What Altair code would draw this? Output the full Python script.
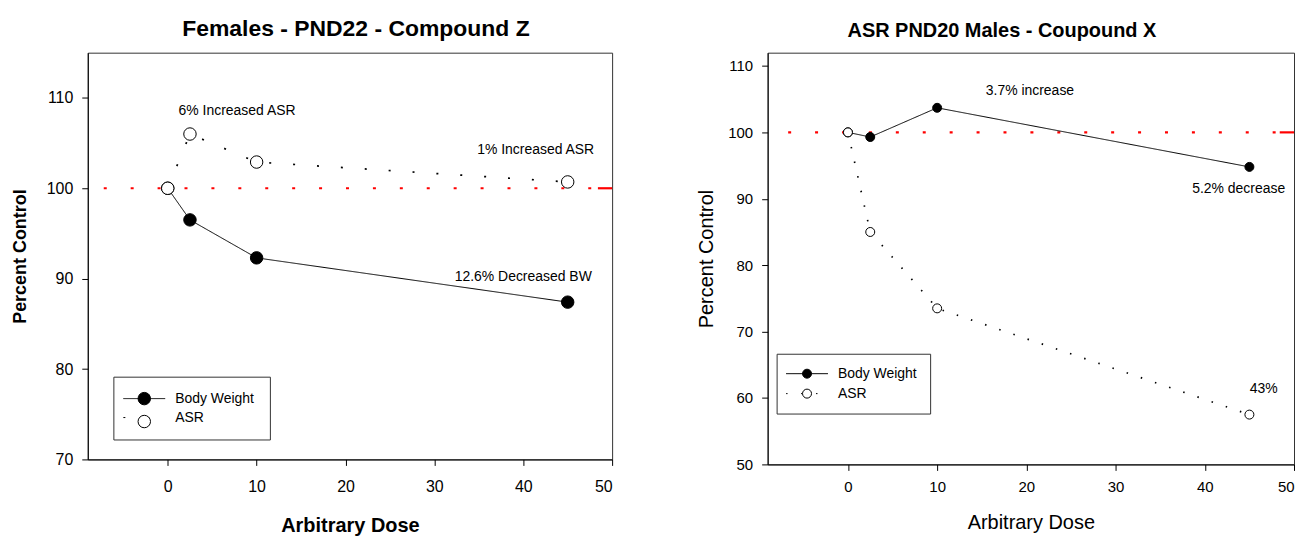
import altair as alt
import pandas as pd

FONT = "Liberation Sans"

# ---- data ----
dose = [0, 2.5, 10, 45]
series_names = ["Body Weight", "ASR"]

f_bw = [100, 96.5, 92.3, 87.4]
f_asr = [100, 106.0, 102.9, 100.7]
m_bw = [100, 99.3, 103.7, 94.8]
m_asr = [100, 85.0, 73.5, 57.5]

f_ann_text = ["6% Increased ASR", "1% Increased ASR", "12.6% Decreased BW"]
f_ann_x = [7.8, 41.4, 40.0]
f_ann_y = [108.6, 104.2, 90.2]

m_ann_text = ["3.7% increase", "5.2% decrease", "43%"]
m_ann_x = [20.4, 43.8, 46.6]
m_ann_y = [106.2, 91.4, 61.4]

ref_level = 100
f_ref_from, m_ref_from = -7.2, -6.7
ref_to = 50
ref_solid_from = 48.4

x_ticks = [0, 10, 20, 30, 40, 50]
x_domain = [-9, 50]


def panel(title, title_size, title_dx, bw, asr, ydom, yticks, ann_text, ann_x, ann_y,
          width, height, bold, tick_fs, ytitle_fs, xtitle_fs, msize, asr_dash,
          lx, ly, lpad, lrow, half_len, sym_off, ref_from, xlabel_pad, xtitle_pad, ytitle_pad):
    rows = []
    for name, vals in ((series_names[0], bw), (series_names[1], asr)):
        for d, v in zip(dose, vals):
            rows.append({"dose": d, "value": v, "series": name, "series_pt": name})
    df = pd.DataFrame(rows)
    ref_df = pd.DataFrame({"x": [ref_from], "x2": [ref_to], "y": [ref_level]})
    solid_df = pd.DataFrame({"x": [ref_solid_from], "x2": [ref_to], "y": [ref_level]})
    ann_df = pd.DataFrame({"t": ann_text, "x": ann_x, "y": ann_y})

    weight = "bold" if bold else "normal"
    xs = alt.Scale(domain=x_domain, nice=False, zero=False)
    ys = alt.Scale(domain=ydom, nice=False, zero=False)
    xax = alt.Axis(values=x_ticks, title="Arbitrary Dose", titleFontWeight=weight,
                   titleFontSize=xtitle_fs, labelFontSize=tick_fs, tickSize=6,
                   labelPadding=xlabel_pad, titlePadding=xtitle_pad, grid=False)
    yax = alt.Axis(values=yticks, title="Percent Control", titleFontWeight=weight,
                   titleFontSize=ytitle_fs, labelFontSize=tick_fs, tickSize=6,
                   labelPadding=9, titlePadding=ytitle_pad, grid=False)

    ref = alt.Chart(ref_df).mark_rule(color="red", strokeWidth=2.2, strokeDash=[3, 24]).encode(
        x=alt.X("x:Q", scale=xs, axis=xax), x2="x2:Q", y=alt.Y("y:Q", scale=ys, axis=yax))
    solid = alt.Chart(solid_df).mark_rule(color="red", strokeWidth=2.2).encode(
        x=alt.X("x:Q", scale=xs, axis=xax), x2="x2:Q", y=alt.Y("y:Q", scale=ys, axis=yax))

    line_legend = alt.Legend(
        orient="none", legendX=lx, legendY=ly, title=None,
        symbolType="M-%.3f,0H%.3f" % (half_len, half_len), symbolSize=msize,
        symbolStrokeColor="black", symbolStrokeWidth=1, symbolFillColor="transparent",
        symbolOffset=sym_off, labelOffset=24, labelFont=FONT, labelFontSize=14,
        labelColor="black", rowPadding=lrow, padding=lpad,
        strokeColor="#333333", fillColor="white")
    pt_legend = alt.Legend(
        orient="none", legendX=lx, legendY=ly, title=None,
        symbolType="circle", symbolSize=msize,
        symbolStrokeColor="black", symbolStrokeWidth=1,
        symbolOffset=sym_off, labelOffset=24, labelFont=FONT, labelFontSize=14,
        labelExpr="''", rowPadding=lrow, padding=lpad)

    lines = alt.Chart(df).mark_line(color="black").encode(
        x=alt.X("dose:Q", scale=xs, axis=xax),
        y=alt.Y("value:Q", scale=ys, axis=yax),
        strokeDash=alt.StrokeDash("series:N", sort=series_names,
                                  scale=alt.Scale(range=[[1, 0], asr_dash]),
                                  legend=line_legend),
        strokeWidth=alt.StrokeWidth("series:N", sort=series_names,
                                    scale=alt.Scale(range=[1, 1.7]), legend=None),
    )
    pts = alt.Chart(df).mark_point(shape="circle", filled=True, stroke="black",
                                   strokeWidth=1, opacity=1, size=msize).encode(
        x=alt.X("dose:Q", scale=xs, axis=xax),
        y=alt.Y("value:Q", scale=ys, axis=yax),
        fill=alt.Fill("series_pt:N", scale=alt.Scale(domain=series_names, range=["black", "white"]),
                      legend=pt_legend),
    )
    ann = alt.Chart(ann_df).mark_text(font=FONT, fontSize=14, color="black",
                                      align="center", baseline="middle").encode(
        x=alt.X("x:Q", scale=xs, axis=xax), y=alt.Y("y:Q", scale=ys, axis=yax), text="t:N")

    return alt.layer(ref, solid, lines, pts, ann).properties(
        width=width, height=height,
        title=alt.Title(title, fontSize=title_size, font=FONT, fontWeight="bold",
                        anchor="middle", dx=title_dx, offset=12, color="black"),
    )


left = panel("Females - PND22 - Compound Z", 23, 6, f_bw, f_asr, [70, 115], [70, 80, 90, 100, 110],
             f_ann_text, f_ann_x, f_ann_y, 526, 408, True, 16, 18, 20, 156, [2, 22],
             25.7, 325, 15, 5, 3.36, 9, f_ref_from, 13, 21, 17)
right = panel("ASR PND20 Males - Coupound X", 20, -29, m_bw, m_asr, [50, 112],
              [50, 60, 70, 80, 90, 100, 110],
              m_ann_text, m_ann_x, m_ann_y, 528, 413, False, 15, 20, 20, 81, [1.5, 13.5],
              9, 302, 13, 6, 4.667, 10.5, m_ref_from, 9, 18, 11)

chart = alt.hconcat(left, right, spacing=156, bounds="flush").resolve_scale(
    strokeDash="independent", fill="independent", strokeWidth="independent"
).resolve_legend(
    strokeDash="independent", fill="independent"
).configure(
    padding={"left": 2, "top": 8, "right": 0, "bottom": 0},
    font=FONT,
).configure_view(stroke="#333333", strokeWidth=1).configure_axis(
    domainColor="black", tickColor="black", labelColor="black", titleColor="black",
    labelFont=FONT, titleFont=FONT,
)

chart.save("out.html", embed_options={"renderer": "svg", "actions": False})
